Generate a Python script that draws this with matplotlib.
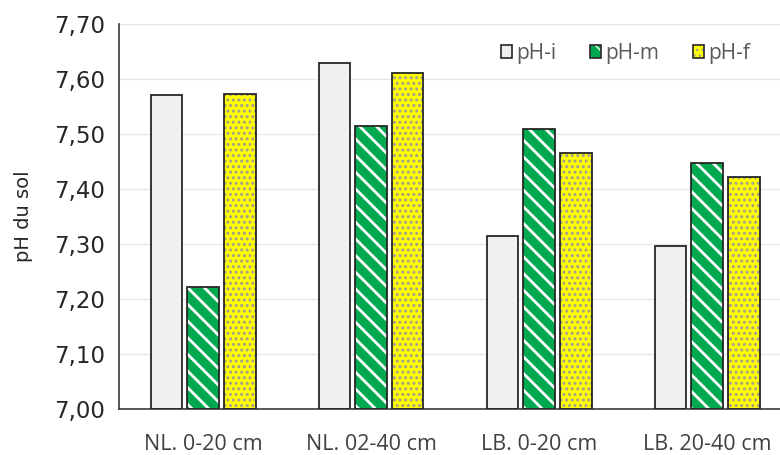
import matplotlib
matplotlib.use("Agg")
import matplotlib.pyplot as plt
import numpy as np
from matplotlib.patches import Patch
from matplotlib.ticker import FuncFormatter

# data
sites = ["NL. 0-20 cm", "NL. 02-40 cm", "LB. 0-20 cm", "LB. 20-40 cm"]
ph_i = [7.571, 7.629, 7.315, 7.296]
ph_m = [7.221, 7.515, 7.509, 7.447]
ph_f = [7.573, 7.610, 7.466, 7.421]
series_names = ["pH-i", "pH-m", "pH-f"]

styles = {
    "pH-i": {"face": "#F0F0F0", "hatch": None, "hcolor": "#F0F0F0", "hlw": 1.0},
    "pH-m": {"face": "#00A94F", "hatch": "\\\\", "hcolor": "#FFFFFF", "hlw": 2.0},
    "pH-f": {"face": "#FFFF00", "hatch": "...", "hcolor": "#A39E8E", "hlw": 1.4},
}

fig = plt.figure(figsize=(7.8, 4.55), dpi=100)
ax = fig.add_axes([119 / 780, 46 / 455, 672 / 780, 385 / 455])

x = np.arange(len(sites))
step = 0.22
width = 0.185
edge = "#262626"


def set_hlw(patches, lw):
    for p in patches:
        if hasattr(p, "set_hatch_linewidth"):
            p.set_hatch_linewidth(lw)


handles = []
for k, (name, vals) in enumerate(zip(series_names, [ph_i, ph_m, ph_f])):
    st = styles[name]
    pos = x + (k - 1) * step
    heights = np.array(vals) - 7.0
    # fill + hatch layer
    plt.rcParams["hatch.linewidth"] = st["hlw"]
    bars = ax.bar(pos, heights, width, bottom=7.0, color=st["face"], hatch=st["hatch"],
                  edgecolor=st["hcolor"], linewidth=0, zorder=2)
    set_hlw(bars, st["hlw"])
    # outline layer
    ax.bar(pos, heights, width, bottom=7.0, fill=False, edgecolor=edge,
           linewidth=1.3, zorder=3)
    h1 = Patch(facecolor=st["face"], hatch=st["hatch"], edgecolor=st["hcolor"], linewidth=0)
    set_hlw([h1], st["hlw"])
    h2 = Patch(fill=False, edgecolor=edge, linewidth=1.2)
    handles.append((h1, h2))

plt.rcParams["hatch.linewidth"] = 1.0

ax.set_ylim(7.0, 7.70)
ax.set_xlim(-0.5, 3.5)
ax.set_yticks(np.arange(7.0, 7.71, 0.1))
ax.yaxis.set_major_formatter(FuncFormatter(lambda v, p: f"{v:.2f}".replace(".", ",")))
ax.set_xticks(x)
ax.set_xticklabels(sites, fontfamily="Open Sans", fontsize=15.5, color="#404040")

for lab in ax.get_yticklabels():
    lab.set_fontfamily("DejaVu Sans")
    lab.set_fontsize(16.5)
    lab.set_color("#262626")

ax.tick_params(axis="both", length=0)
ax.tick_params(axis="y", pad=10)
ax.tick_params(axis="x", pad=18)

ax.yaxis.grid(True, color="#E8E8E8", linewidth=1.0, zorder=0)
ax.set_axisbelow(True)
for s in ["top", "right"]:
    ax.spines[s].set_visible(False)
for s in ["left", "bottom"]:
    ax.spines[s].set_color("#3A3A3A")
    ax.spines[s].set_linewidth(1.2)

ax.set_ylabel("pH du sol", fontfamily="DejaVu Sans", fontsize=14,
              color="#262626", labelpad=15)

leg = ax.legend(handles, series_names, loc="upper right", bbox_to_anchor=(0.967, 1.0),
                ncol=3, frameon=False, handlelength=0.55, handleheight=0.55,
                handletextpad=0.2, columnspacing=1.6,
                prop={"family": "Open Sans", "size": 15})
for t in leg.get_texts():
    t.set_color("#595959")

fig.savefig("out.png", dpi=100, facecolor="white")
